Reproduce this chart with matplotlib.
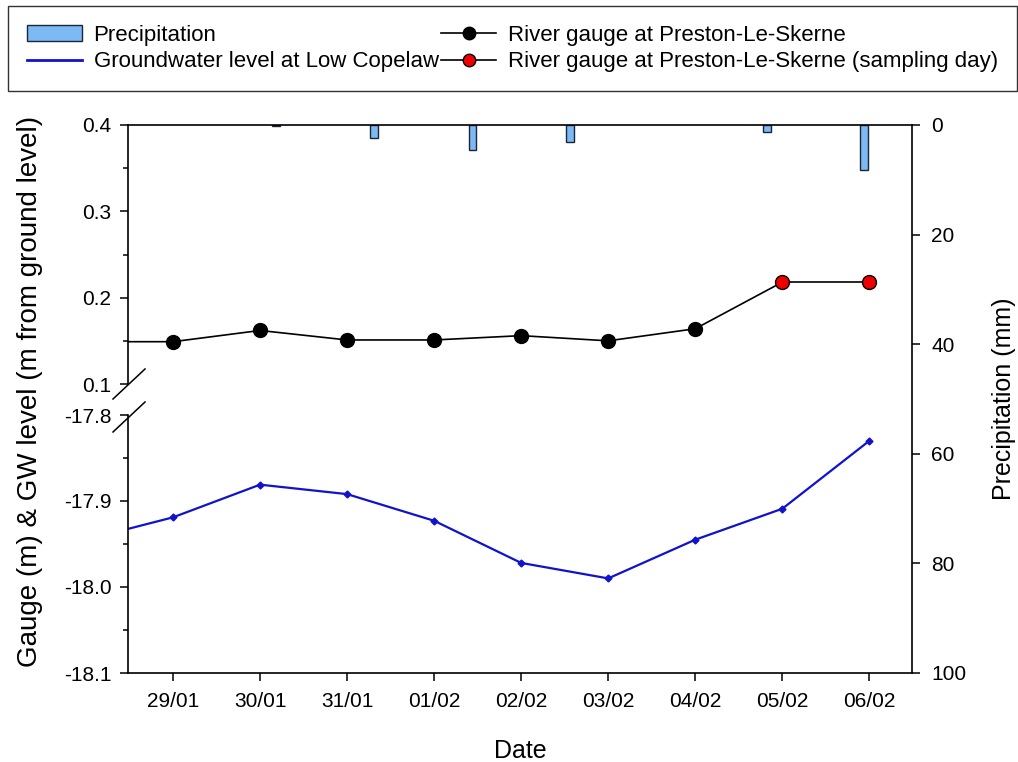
import matplotlib.pyplot as plt
from matplotlib.lines import Line2D
from matplotlib.patches import Patch
from matplotlib.ticker import MultipleLocator

plt.rcParams['font.family'] = ['Liberation Sans', 'DejaVu Sans']
plt.rcParams['axes.unicode_minus'] = False

# data (day index 0 = 29/01)
date_labels = ['29/01', '30/01', '31/01', '01/02', '02/02', '03/02', '04/02', '05/02', '06/02']
date_pos = list(range(len(date_labels)))

gauge_day = [-1, 0, 1, 2, 3, 4, 5, 6]
gauge = [0.149, 0.149, 0.162, 0.151, 0.151, 0.156, 0.150, 0.164]
sample_day = [7, 8]
sample_gauge = [0.218, 0.218]

gw_day = [-1, 0, 1, 2, 3, 4, 5, 6, 7, 8]
gw = [-17.945, -17.919, -17.881, -17.892, -17.923, -17.972, -17.990, -17.945, -17.909, -17.830]

precip_day = [1.18, 2.31, 3.44, 4.56, 6.82, 7.94]
precip = [0.2, 2.4, 4.6, 3.1, 1.3, 8.2]

fig = plt.figure(figsize=(10.18, 7.62), dpi=100)
W, H = 1018, 762
L, R = 128 / W, 912 / W
xlim = (-0.517, 8.49)

# precipitation (right axis, inverted), full height
ax_p = fig.add_axes([L, 89 / H, R - L, 548 / H])
ax_p.bar(precip_day, precip, width=0.09, color='#7DB9F5', edgecolor='#1c2533', linewidth=1)
ax_p.set_xlim(*xlim)
ax_p.set_ylim(100, 0)
ax_p.yaxis.tick_right()
ax_p.yaxis.set_label_position('right')
ax_p.set_yticks([0, 20, 40, 60, 80, 100])
ax_p.set_xticks(date_pos)
ax_p.set_xticklabels(date_labels)
ax_p.spines['left'].set_visible(False)
for s in ['top', 'right', 'bottom']:
    ax_p.spines[s].set_linewidth(1.2)
ax_p.tick_params(direction='out', length=6, width=1.1, labelsize=15, pad=8)
ax_p.set_xlabel('Date', fontsize=18, labelpad=20)
ax_p.set_ylabel('Precipitation (mm)', fontsize=18, labelpad=18)

# broken left axis: top part (gauge)
ax_t = fig.add_axes([L, 378 / H, R - L, 259 / H])
ax_t.patch.set_visible(False)
ax_t.plot(gauge_day + sample_day[:1], gauge + sample_gauge[:1], color='k', lw=1.2, marker='o', ms=10,
          markevery=list(range(1, len(gauge))), mfc='k', mec='k')
ax_t.plot(sample_day, sample_gauge, color='k', lw=1.2, marker='o', ms=10, mfc='#ee0000', mec='k')
ax_t.set_xlim(*xlim)
ax_t.set_ylim(0.1, 0.4)
ax_t.set_yticks([0.1, 0.2, 0.3, 0.4])
ax_t.yaxis.set_minor_locator(MultipleLocator(0.05))

# bottom part (groundwater)
ax_b = fig.add_axes([L, 89 / H, R - L, 258 / H])
ax_b.patch.set_visible(False)
ax_b.plot(gw_day, gw, color='#1212CC', lw=1.6, marker='D', ms=3.5)
ax_b.set_xlim(*xlim)
ax_b.set_ylim(-18.1, -17.8)
ax_b.set_yticks([-18.1, -18.0, -17.9, -17.8])
ax_b.yaxis.set_minor_locator(MultipleLocator(0.05))

for ax in (ax_t, ax_b):
    for s in ['top', 'right', 'bottom']:
        ax.spines[s].set_visible(False)
    ax.spines['left'].set_linewidth(1.2)
    ax.set_xticks([])
    ax.tick_params(axis='y', which='major', direction='out', length=6, width=1.1, labelsize=15, pad=6)
    ax.tick_params(axis='y', which='minor', direction='out', length=3.5, width=1.1)

fig.text(30 / W, 1 - 391 / H, 'Gauge (m) & GW level (m from ground level)', rotation=90,
         ha='center', va='center', fontsize=20)

# break marks
for yb in (384, 417):
    fig.add_artist(Line2D([113 / W, 145 / W], [1 - (yb + 15) / H, 1 - (yb - 15) / H],
                          color='k', lw=1.1, transform=fig.transFigure))

handles = [
    Patch(facecolor='#7DB9F5', edgecolor='#1c2533', label='Precipitation'),
    Line2D([], [], color='#1212CC', lw=2, label='Groundwater level at Low Copelaw'),
    Line2D([], [], color='k', lw=1.2, marker='o', ms=9, mfc='k', mec='k',
           label='River gauge at Preston-Le-Skerne'),
    Line2D([], [], color='k', lw=1.2, marker='o', ms=9, mfc='#ee0000', mec='k',
           label='River gauge at Preston-Le-Skerne (sampling day)'),
]
leg = fig.legend(handles=handles, ncol=2, loc='upper left',
                 bbox_to_anchor=(8 / W, 1 - 6 / H), borderaxespad=0, fontsize=16, frameon=True,
                 fancybox=False, edgecolor='k', handlelength=2.5, handletextpad=0.5,
                 columnspacing=0.1, labelspacing=0.25, borderpad=0.85)
leg.get_frame().set_linewidth(1.0)

fig.savefig('out.png', dpi=100)
